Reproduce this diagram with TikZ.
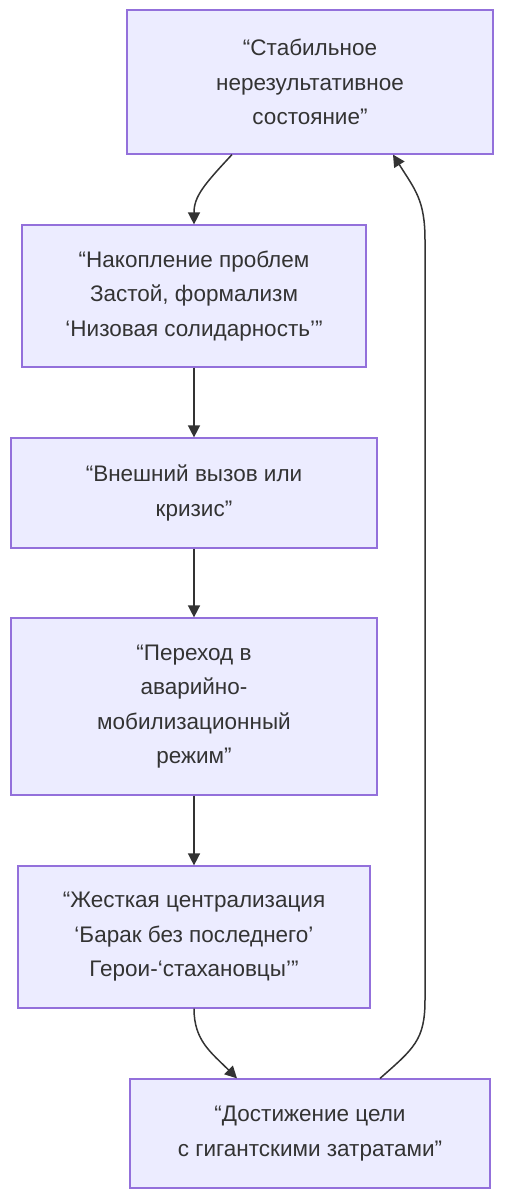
\documentclass[tikz,border=0pt]{standalone}
\usepackage{fontspec}
\setmainfont{Liberation Sans}
\usetikzlibrary{positioning, calc, arrows.meta}
\definecolor{boxfill}{HTML}{ECECFF}
\definecolor{boxline}{HTML}{9370DB}
\definecolor{ink}{HTML}{333333}
\begin{document}
\begin{tikzpicture}[x=1pt,y=1pt,
    stagebox/.style={draw=boxline,fill=boxfill,line width=1.2pt,text=ink,align=center,
        font=\fontsize{22.5}{34.5}\selectfont,inner sep=0pt},
    flow/.style={draw=ink,line width=1.5pt,-{Triangle[length=12pt,width=12pt]}}]
\useasboundingbox (0,0) rectangle (504,1200);

\node[stagebox,minimum width=366pt,minimum height=144pt](stable) at (310,1118)
    {“Стабильное\\нерезультативное\\состояние”};
\node[stagebox,minimum width=344pt,minimum height=142pt](accum) at (194,904)
    {“Накопление проблем\\Застой, формализм\\‘Низовая солидарность’”};
\node[stagebox,minimum width=366pt,minimum height=110pt](crisis) at (194,707)
    {“Внешний вызов или\\кризис”};
\node[stagebox,minimum width=366pt,minimum height=177pt](mobil) at (194,493.5)
    {“Переход в\\аварийно-\\мобилизационный\\режим”};
\node[stagebox,minimum width=352pt,minimum height=142pt](central) at (194,263)
    {“Жесткая централизация\\‘Барак без последнего’\\Герои-‘стахановцы’”};
\node[stagebox,minimum width=360pt,minimum height=109pt](goal) at (310,66.5)
    {“Достижение цели\\с гигантскими затратами”};

\coordinate (railbot) at (425,200);
\coordinate (railtop) at (425,960);

\draw[flow] ([xshift=-78pt]stable.south) .. controls +(-28,-30) and +(0,28) .. (accum.north);
\draw[flow] (accum) -- (crisis);
\draw[flow] (crisis) -- (mobil);
\draw[flow] (mobil) -- (central);
\draw[flow] (central.south) .. controls +(0,-32) and +(-26,26) .. ([xshift=-73pt]goal.north);
\draw[flow] ([xshift=70pt]goal.north) .. controls +(34,30) and +(0,-40) .. (railbot)
    -- (railtop) .. controls +(0,40) and +(22,-35) .. ([xshift=83pt]stable.south);
\end{tikzpicture}
\end{document}
